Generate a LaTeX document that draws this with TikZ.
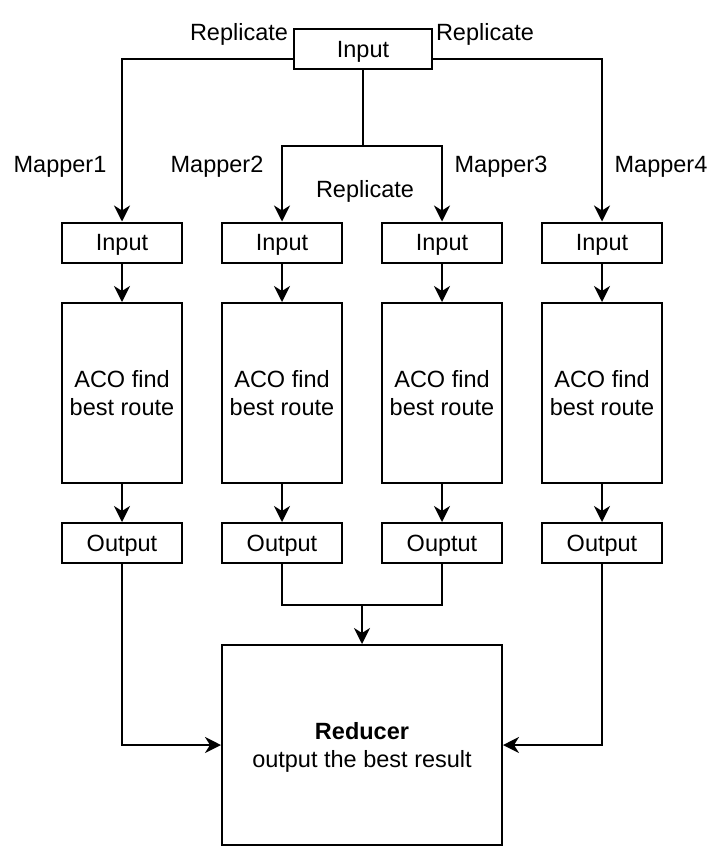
\documentclass[tikz,border=0pt]{standalone}
\usepackage{fontspec}
\setmainfont{Liberation Sans}
\usetikzlibrary{arrows.meta,calc}
\begin{document}
\begin{tikzpicture}[x=1pt,y=-1pt,
  every node/.style={font=\fontsize{23.5}{28}\selectfont, inner sep=0pt},
  box/.style={draw, line width=2pt, align=center, text depth=0pt},
  small/.style={box, minimum width=120pt, minimum height=40pt},
  tall/.style={box, minimum width=120pt, minimum height=180pt},
  lbl/.style={anchor=base},
  arr/.style={line width=2pt, -{Stealth[length=16pt,width=16pt,inset=5pt]}},
  ln/.style={line width=2pt}]
\useasboundingbox (0,0) rectangle (721,865);
% nodes
\node[box, minimum width=138pt, minimum height=40pt] (top) at (363,49) {Input};
\foreach \i/\x in {1/122,2/282,3/442,4/602}{
  \node[small] (in\i) at (\x,242.5) {Input};
  \node[tall] (aco\i) at (\x,393) {ACO find\\best route};
}
\node[small] (out1) at (122,543) {Output};
\node[small] (out2) at (282,543) {Output};
\node[small] (out3) at (442,543) {Ouptut};
\node[small] (out4) at (602,543) {Output};
\node[box, minimum width=280pt, minimum height=200pt] (red) at (362,745) {\textbf{Reducer}\\output the best result};
% labels
\node[lbl] (r1) at (239,40) {Replicate};
\node[lbl] (r2) at (485,40) {Replicate};
\node[lbl] (r3) at (365,197) {Replicate};
\node[lbl] (m1) at (60,172) {Mapper1};
\node[lbl] (m2) at (217,172) {Mapper2};
\node[lbl] (m3) at (501,172) {Mapper3};
\node[lbl] (m4) at (661,172) {Mapper4};
% connectors
\coordinate (lj) at ($(top.west)+(0,10)$);
\coordinate (rj) at ($(top.east)+(0,10)$);
\draw[arr] (lj) -| (in1.north);
\draw[arr] (rj) -| (in4.north);
\coordinate (split) at (363,146);
\draw[arr] (top.south) -- (split) -| (in2.north);
\draw[arr] (split) -| (in3.north);
\foreach \i in {1,2,3,4}{
  \draw[arr] (in\i.south) -- (aco\i.north);
  \draw[arr] (aco\i.south) -- (out\i.north);
}
\draw[arr] (out1.south) |- (red.west);
\draw[arr] (out4.south) |- (red.east);
\coordinate (merge) at (362,605);
\draw[ln] (out2.south) |- (merge);
\draw[ln] (out3.south) |- (merge);
\draw[arr] (merge) -- (red.north);
\end{tikzpicture}
\end{document}
